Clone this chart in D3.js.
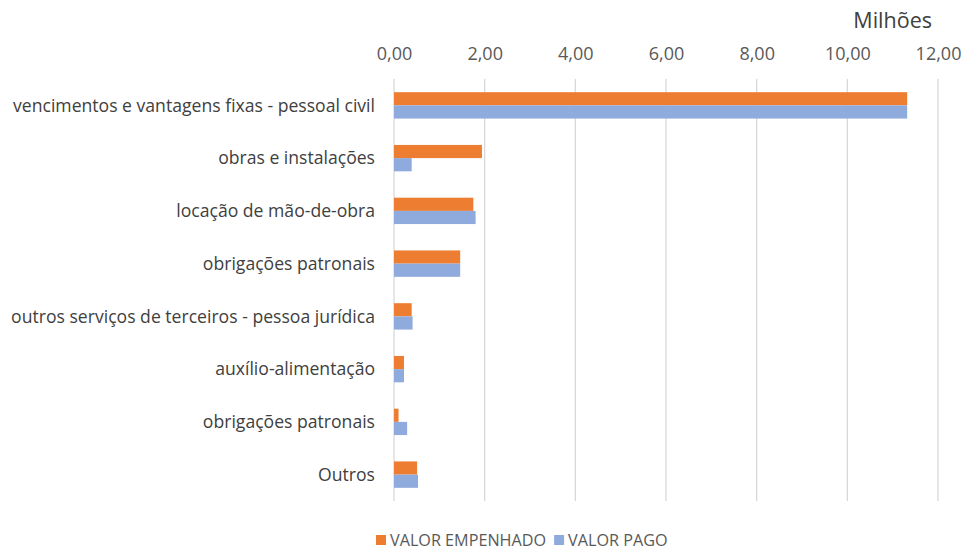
<!DOCTYPE html>
<html><head><meta charset="utf-8">
<script src="https://cdn.jsdelivr.net/npm/d3@7"></script>
<style>body{margin:0;background:#fff;} text{font-family:"Open Sans",sans-serif;}</style>
</head><body>
<svg id="c" width="963" height="550"></svg>
<script>
const categories = ["vencimentos e vantagens fixas - pessoal civil","obras e instalações","locação de mão-de-obra","obrigações patronais","outros serviços de terceiros - pessoa jurídica","auxílio-alimentação","obrigações patronais","Outros"];
const valorEmpenhado = [11.32, 1.94, 1.75, 1.46, 0.39, 0.22, 0.10, 0.51];
const valorPago = [11.32, 0.39, 1.80, 1.46, 0.41, 0.22, 0.29, 0.53];
const seriesNames = ["VALOR EMPENHADO","VALOR PAGO"];
const tickValues = [0,2,4,6,8,10,12];
const colors = ["#ED7D31","#8FAADC"];

(function(){
const svg = d3.select("#c");
const left = 394, right = 938, ptop = 79, pbottom = 501;
const x = d3.scaleLinear().domain([0,12]).range([left,right]);
const y = d3.scaleBand().domain(d3.range(categories.length)).range([ptop,pbottom]).paddingInner(0.5).paddingOuter(0.25);
const sub = d3.scaleBand().domain([0,1]).range([0,y.bandwidth()]);

svg.append("g").selectAll("line").data(tickValues).join("line")
  .attr("x1",d=>x(d)).attr("x2",d=>x(d)).attr("y1",ptop).attr("y2",pbottom)
  .attr("stroke","#D9D9D9").attr("stroke-width",1.3);

const fmt = d => d3.format(".2f")(d).replace(".",",");
const ax = svg.append("g").attr("transform",`translate(0,63)`)
  .call(d3.axisTop(x).tickValues(tickValues).tickFormat(fmt).tickSize(0));
ax.select(".domain").remove();
ax.selectAll("text").attr("font-size",18).attr("fill","#595959").style("font-family","Open Sans, sans-serif");

svg.append("text").attr("x",right-6).attr("y",28).attr("text-anchor","end")
  .attr("font-size",21.5).attr("fill","#404040").text("Milhões");

const series = [valorEmpenhado, valorPago];
series.forEach((vals,si)=>{
  svg.append("g").selectAll("rect").data(vals).join("rect")
    .attr("x",x(0)).attr("y",(d,i)=>y(i)+sub(si))
    .attr("width",d=>x(d)-x(0)).attr("height",sub.bandwidth())
    .attr("fill",colors[si]);
});

svg.append("g").selectAll("text").data(categories).join("text")
  .attr("x",375).attr("y",(d,i)=>y(i)+y.bandwidth()/2).attr("dy","0.35em")
  .attr("text-anchor","end").attr("font-size",17.6).attr("fill","#404040").text(d=>d);

const lg = svg.append("g");
let lx = 376;
seriesNames.forEach((n,i)=>{
  lg.append("rect").attr("x",lx).attr("y",535).attr("width",10).attr("height",10).attr("fill",colors[i]);
  const t = lg.append("text").attr("x",lx+14).attr("y",546).attr("font-size",16.2).attr("fill","#595959").text(n);
  lx += 14 + t.node().getComputedTextLength() + 8;
});
})();
</script>
</body></html>
